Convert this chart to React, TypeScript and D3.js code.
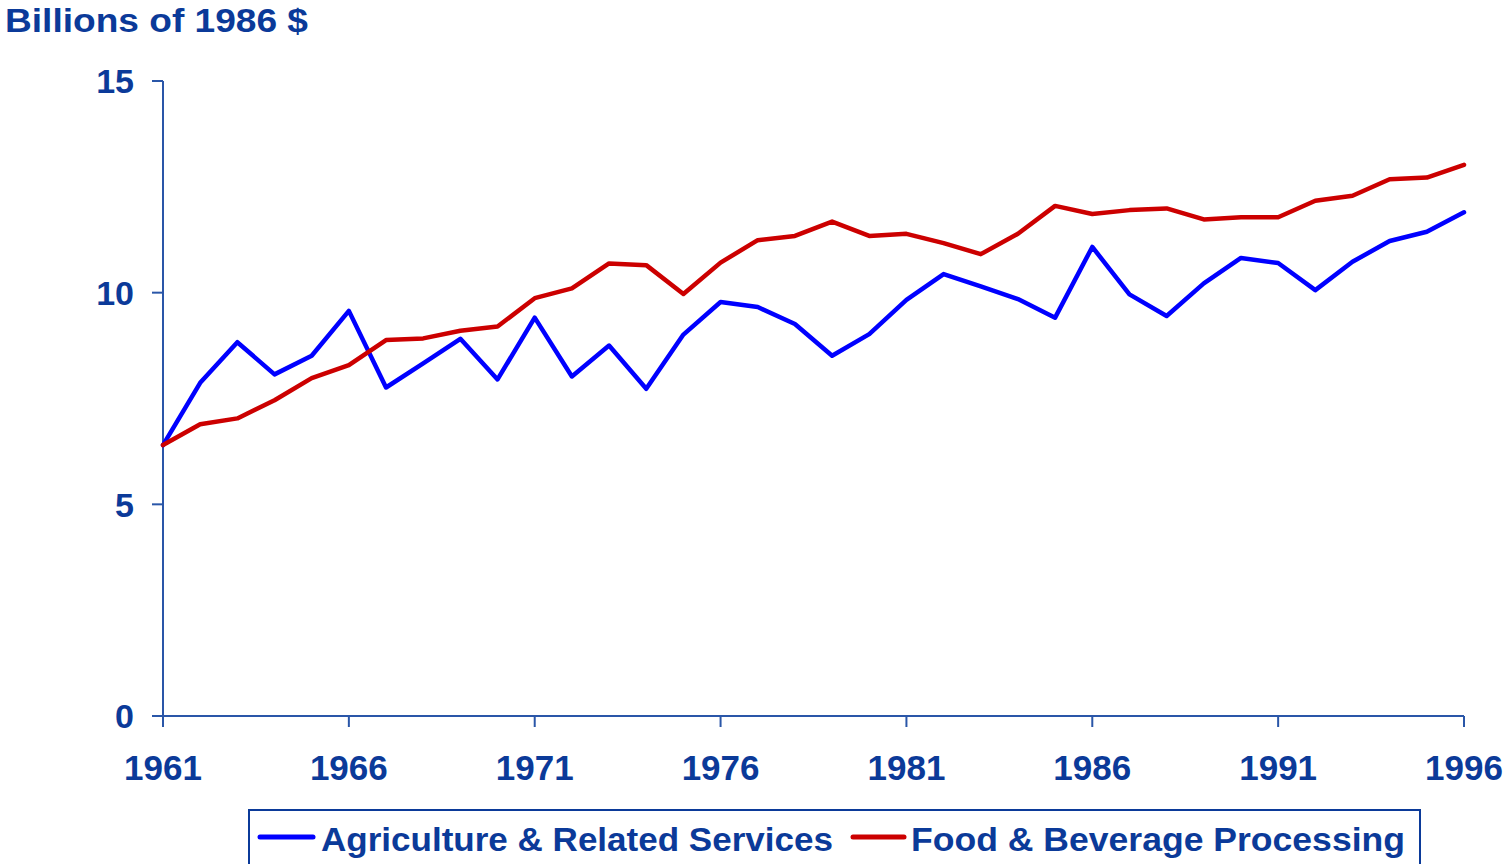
import React from "react";
import * as d3 from "d3";

const years: number[] = [
  1961, 1962, 1963, 1964, 1965, 1966, 1967, 1968, 1969, 1970, 1971, 1972,
  1973, 1974, 1975, 1976, 1977, 1978, 1979, 1980, 1981, 1982, 1983, 1984,
  1985, 1986, 1987, 1988, 1989, 1990, 1991, 1992, 1993, 1994, 1995, 1996,
];
const agriculture: number[] = [
  6.4, 7.87, 8.83, 8.07, 8.51, 9.57, 7.76, 8.33, 8.91, 7.95, 9.41, 8.02,
  8.75, 7.73, 9.01, 9.78, 9.66, 9.26, 8.51, 9.02, 9.83, 10.44, 10.15, 9.85,
  9.41, 11.08, 9.96, 9.45, 10.22, 10.82, 10.7, 10.06, 10.73, 11.22, 11.44, 11.9,
];
const foodBeverage: number[] = [
  6.4, 6.89, 7.03, 7.46, 7.98, 8.29, 8.88, 8.92, 9.1, 9.2, 9.87, 10.1,
  10.69, 10.65, 9.97, 10.71, 11.24, 11.34, 11.68, 11.34, 11.39, 11.17, 10.91, 11.39,
  12.05, 11.86, 11.95, 11.99, 11.73, 11.78, 11.78, 12.17, 12.29, 12.68, 12.72, 13.02,
];
const yTicks: number[] = [0, 5, 10, 15];
const xTicks: number[] = [1961, 1966, 1971, 1976, 1981, 1986, 1991, 1996];
const seriesNames: string[] = ["Agriculture & Related Services", "Food & Beverage Processing"];
const yTitle = "Billions of 1986 $";

const TEXT = "#0b3a99";
const AXIS = "#2a56a8";
const FONT = "'Liberation Sans', Arial, sans-serif";

export default function App() {
  const W = 1505;
  const H = 864;
  const x = d3.scaleLinear().domain([1961, 1996]).range([163, 1464]);
  const y = d3.scaleLinear().domain([0, 15]).range([716, 81]);
  const line = d3
    .line<number>()
    .x((_, i) => x(years[i]))
    .y((d) => y(d));
  const series = [
    { name: seriesNames[0], values: agriculture, color: "#0000ff" },
    { name: seriesNames[1], values: foodBeverage, color: "#cc0000" },
  ];
  return (
    <svg
      width={W}
      height={H}
      style={{ position: "absolute", left: 0, top: 0, background: "#fff" }}
    >
      <text x={5} y={32} fontFamily={FONT} fontWeight="bold" fontSize={34} fill={TEXT}
        textLength={303} lengthAdjust="spacingAndGlyphs">
        {yTitle}
      </text>
      {/* y axis */}
      <line x1={x(1961)} x2={x(1961)} y1={y(15)} y2={y(0)} stroke={AXIS} strokeWidth={2} />
      {yTicks.map((t) => (
        <g key={"y" + t}>
          <line x1={x(1961) - 11} x2={x(1961)} y1={y(t)} y2={y(t)} stroke={AXIS} strokeWidth={2} />
          <text
            x={134}
            y={y(t)}
            dy="0.36em"
            textAnchor="end"
            fontFamily={FONT}
            fontWeight="bold"
            fontSize={34}
            fill={TEXT}
          >
            {t}
          </text>
        </g>
      ))}
      {/* x axis */}
      <line x1={x(1961)} x2={x(1996)} y1={y(0)} y2={y(0)} stroke={AXIS} strokeWidth={2} />
      {xTicks.map((t) => (
        <g key={"x" + t}>
          <line x1={x(t)} x2={x(t)} y1={y(0)} y2={y(0) + 11} stroke={AXIS} strokeWidth={2} />
          <text
            x={x(t)}
            y={780}
            textAnchor="middle"
            fontFamily={FONT}
            fontWeight="bold"
            fontSize={35}
            fill={TEXT}
          >
            {t}
          </text>
        </g>
      ))}
      {/* lines */}
      {series.map((s) => (
        <path
          key={s.name}
          d={line(s.values) || ""}
          fill="none"
          stroke={s.color}
          strokeWidth={4.5}
          strokeLinejoin="round"
          strokeLinecap="round"
        />
      ))}
      {/* legend */}
      <rect x={249} y={810} width={1171} height={70} fill="none" stroke={TEXT} strokeWidth={2} />
      <line x1={260} x2={313} y1={837} y2={837} stroke="#0000ff" strokeWidth={5} strokeLinecap="round" />
      <text x={321} y={851} fontFamily={FONT} fontWeight="bold" fontSize={33} fill={TEXT}
        textLength={512} lengthAdjust="spacingAndGlyphs">
        {seriesNames[0]}
      </text>
      <line x1={853} x2={904} y1={837} y2={837} stroke="#cc0000" strokeWidth={5} strokeLinecap="round" />
      <text x={911} y={851} fontFamily={FONT} fontWeight="bold" fontSize={33} fill={TEXT}
        textLength={494} lengthAdjust="spacingAndGlyphs">
        {seriesNames[1]}
      </text>
    </svg>
  );
}
